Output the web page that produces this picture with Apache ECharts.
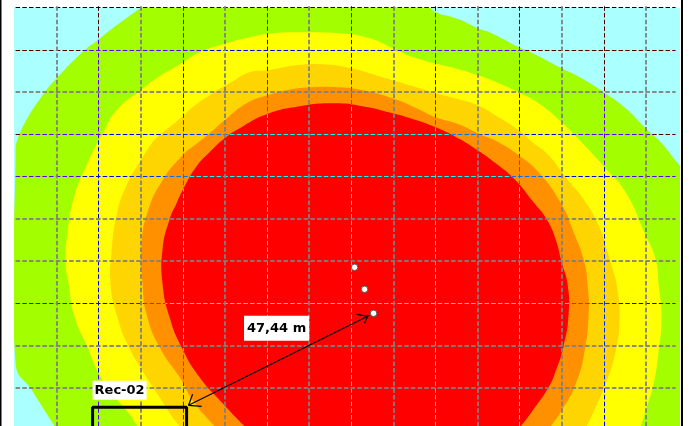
<!DOCTYPE html>
<html>
<head>
<meta charset="utf-8">
<style>
  html, body { margin: 0; padding: 0; background: #fff; overflow: hidden; height: 426px; }
  #map { position: relative; width: 689px; height: 426px; overflow: hidden; isolation: isolate; background: #fff; }
  /* charts run a little past the window so the y axis can start below the crop */
  .layer { position: absolute; left: 0; top: 0; width: 689px; height: 431px; }
  #inverted { mix-blend-mode: difference; }
</style>
</head>
<body>
<div id="map">
  <div id="base" class="layer"></div>
  <div id="inverted" class="layer"></div>
  <div id="marks" class="layer"></div>
</div>
<script src="https://cdn.jsdelivr.net/npm/echarts@6/dist/echarts.min.js"></script>
<script>
// contour bands, outer to inner
const mapArea = [[0.5, -10], [0.5, 425], [665, 425], [665, -10]];
const greenBand = [[1, 283], [2, 288], [10, 307], [28, 335], [42, 352], [70, 380], [83, 390], [98, 402], [127, 423], [141, 433], [403, 433], [415, 423], [421, 418], [444, 411], [463, 402], [477, 397], [504, 383], [514, 379], [547, 362], [567, 352], [589, 338], [611, 322], [631, 302], [646, 288], [664, 266], [680, 248], [680, -10], [48, -10], [40, 4], [28, 23], [18, 39], [1, 67]];
const yellowBand = [[123, 4], [115, 16], [102, 31], [95, 39], [83, 59], [73, 83], [60, 113], [54, 146], [51, 168], [53, 198], [60, 235], [72, 265], [83, 288], [87, 295], [102, 320], [126, 340], [142, 352], [167, 367], [185, 378], [212, 387], [235, 393], [258, 397], [285, 398], [325, 397], [355, 392], [378, 382], [402, 372], [444, 361], [463, 355], [477, 350], [504, 338], [524, 327], [547, 308], [567, 288], [590, 263], [611, 238], [631, 195], [641, 171], [644, 146], [647, 113], [644, 79], [639, 46], [632, 23], [626, 4], [619, -10], [135, -10]];
const goldBand = [[165, 4], [158, 13], [145, 33], [132, 53], [113, 86], [102, 116], [96, 146], [97, 178], [102, 215], [112, 245], [127, 271], [138, 288], [145, 295], [167, 313], [178, 323], [198, 337], [215, 347], [235, 358], [253, 360], [282, 365], [308, 366], [337, 362], [358, 356], [378, 350], [402, 343], [421, 337], [444, 331], [463, 325], [484, 313], [504, 300], [518, 288], [534, 275], [551, 253], [569, 231], [584, 205], [592, 181], [599, 158], [602, 146], [605, 113], [601, 79], [591, 46], [581, 23], [572, 4], [564, -10], [176, -10]];
const orangeBand = [[200, 4], [178, 30], [167, 50], [145, 83], [132, 116], [128, 146], [127, 185], [133, 218], [148, 250], [168, 275], [180, 285], [195, 297], [210, 310], [232, 327], [253, 335], [272, 340], [295, 343], [325, 343], [348, 340], [378, 332], [402, 322], [421, 313], [444, 306], [463, 297], [484, 288], [504, 275], [524, 258], [547, 226], [559, 198], [569, 171], [573, 146], [574, 116], [570, 79], [561, 46], [546, 18], [536, 4], [525, -10], [214, -10]];
const redBand = [[230, 4], [208, 27], [185, 53], [167, 83], [155, 113], [148, 146], [148, 181], [155, 211], [162, 227], [168, 240], [182, 264], [195, 278], [210, 292], [225, 302], [252, 316], [285, 324], [320, 327], [348, 324], [378, 317], [402, 310], [421, 303], [440, 294], [463, 280], [481, 267], [499, 252], [519, 228], [532, 211], [541, 191], [547, 168], [553, 146], [554, 116], [549, 84], [541, 59], [534, 43], [519, 21], [506, 4], [492, -10], [245, -10]];

// grid lines: some come out as thin inverted lines, the others as wider grey ones
const xLinesInverted = [84.2, 168.4, 252.6, 336.8, 421, 505.2, 589.4];
const xLinesGrey = [42.1, 126.3, 210.5, 294.7, 378.9, 463.1, 547.3, 631.5];
const yLinesInverted = [126.75, 253.5, 295.75, 380.25, 422.5];
const yLinesGrey = [42.25, 84.5, 169, 211.25, 338];

const receptor = [[78, -10], [78, 23], [172, 23], [172, -10]];
const sources = [[340, 163], [350, 141], [359, 117]];
const arrowShaft = [[355, 115], [174, 25]];
const arrowHeadStart = [[342, 116], [353, 114], [350, 107]];
const arrowHeadEnd = [[178, 36], [174, 25], [187, 24]];
const labelNames = ['47,44 m', 'Rec-02'];
const labelPoints = [[262, 102], [105, 40]];

function bandSeries(points, color) {
  return {
    type: 'custom',
    clip: true,
    silent: true,
    data: [0],
    renderItem(params, api) {
      return {
        type: 'polygon',
        shape: { points: points.map((p) => api.coord(p)), smooth: 0.5 },
        style: { fill: color },
      };
    },
  };
}

function gridSeries(values, vertical, inverted) {
  return {
    type: 'custom',
    clip: false,
    silent: true,
    data: values.map((v) => [v]),
    encode: vertical ? { x: 0 } : { y: 0 },
    renderItem(params, api) {
      const v = api.value(0);
      const a = api.coord(vertical ? [v, 424] : [1, v]);
      const b = api.coord(vertical ? [v, -10] : [661, v]);
      // snap to the pixel grid so the dashes stay sharp
      const snap = inverted ? (n) => Math.floor(n) + 0.5 : Math.round;
      const shape = vertical
        ? { x1: snap(a[0]), y1: a[1], x2: snap(a[0]), y2: b[1] }
        : { x1: a[0], y1: snap(a[1]), x2: b[0], y2: snap(a[1]) };
      return {
        type: 'line',
        shape,
        style: inverted
          ? { stroke: '#fff', lineWidth: 1, lineDash: [4.5, 2.2] }
          : { stroke: 'rgba(128,128,128,0.9)', lineWidth: 2, lineDash: [4.5, 2.2] },
      };
    },
  };
}

function pathSeries(data, width) {
  return {
    type: 'line',
    data,
    symbol: 'none',
    silent: true,
    lineStyle: { color: '#000', width },
  };
}

// same axes on every layer
function layerOption(series, graphic) {
  return {
    animation: false,
    grid: { left: 14.6, top: 7.8, right: 10, bottom: 0.7 },
    xAxis: { type: 'value', min: 0, max: 664.4, interval: 42.1, show: false },
    yAxis: { type: 'value', min: 0, max: 422.5, interval: 42.25, show: false },
    graphic: graphic || [],
    series,
  };
}

const baseChart = echarts.init(document.getElementById('base'));
baseChart.setOption(layerOption([
  bandSeries(mapArea, '#aaffff'),
  bandSeries(greenBand, '#a3ff00'),
  bandSeries(yellowBand, '#ffff00'),
  bandSeries(goldBand, '#ffd500'),
  bandSeries(orangeBand, '#ff9100'),
  bandSeries(redBand, '#ff0000'),
  gridSeries(xLinesGrey, true, false),
  gridSeries(yLinesGrey, false, false),
], [
  { type: 'rect', shape: { x: 0, y: 0, width: 1.5, height: 431 }, style: { fill: '#000' } },
  { type: 'rect', shape: { x: 681, y: 0, width: 2, height: 431 }, style: { fill: '#000' } },
]));

// this layer is blended with difference, white turns into the inverse of the map colours
const invertedChart = echarts.init(document.getElementById('inverted'));
invertedChart.setOption(layerOption([
  gridSeries(xLinesInverted, true, true),
  gridSeries(yLinesInverted, false, true),
]));

const marksChart = echarts.init(document.getElementById('marks'));
marksChart.setOption(layerOption([
  pathSeries(receptor, 3),
  pathSeries(arrowShaft, 1.2),
  pathSeries(arrowHeadStart, 1.2),
  pathSeries(arrowHeadEnd, 1.2),
  {
    type: 'scatter',
    data: sources,
    symbolSize: 6.5,
    silent: true,
    itemStyle: { color: '#fff', borderColor: '#555', borderWidth: 1, opacity: 1 },
  },
  {
    type: 'scatter',
    symbolSize: 0,
    silent: true,
    itemStyle: { opacity: 1 },
    data: labelPoints.map((p, i) => ({
      name: labelNames[i],
      value: p,
      label: { padding: i === 0 ? [6, 3] : [3, 2] },
    })),
    label: {
      show: true,
      position: 'inside',
      formatter: '{b}',
      color: '#000',
      backgroundColor: '#fff',
      fontFamily: 'DejaVu Sans',
      fontWeight: 'bold',
      fontSize: 13,
    },
  },
]));
</script>
</body>
</html>
